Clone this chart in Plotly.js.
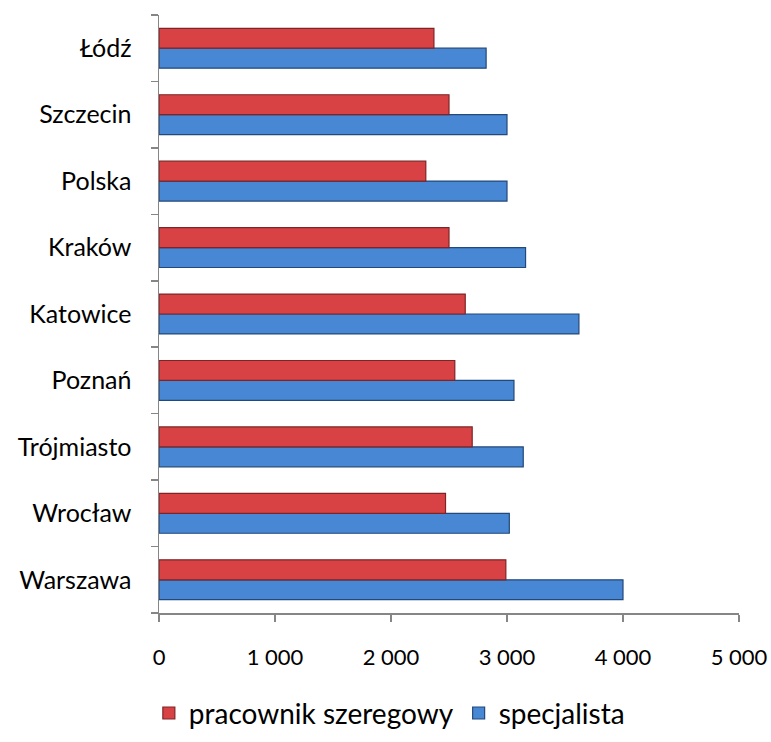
<!DOCTYPE html>
<html>
<head>
<meta charset="utf-8">
<script src="https://cdn.plot.ly/plotly-3.0.1.min.js"></script>
<style>html,body{margin:0;padding:0;background:#fff;}#chart{width:771px;height:742px;}</style>
</head>
<body>
<div id="chart"></div>
<script>
const categories = ["Warszawa", "Wrocław", "Trójmiasto", "Poznań", "Katowice", "Kraków", "Polska", "Szczecin", "Łódź"];
const pracownikSzeregowy = [2990, 2470, 2700, 2550, 2640, 2500, 2300, 2500, 2370];
const specjalista = [4000, 3020, 3140, 3060, 3620, 3160, 3000, 3000, 2820];
const seriesNames = ["pracownik szeregowy", "specjalista"];
const xTickVals = [0, 1000, 2000, 3000, 4000, 5000];
const xTickText = ["0", "1 000", "2 000", "3 000", "4 000", "5 000"];

const font = "Lato, 'Open Sans', 'Liberation Sans', sans-serif";

const traces = [
  {
    type: "bar", orientation: "h", name: seriesNames[1],
    y: categories, x: specjalista,
    marker: { color: "#4887d3", line: { color: "#23487a", width: 1.2 } },
    hoverinfo: "x+y"
  },
  {
    type: "bar", orientation: "h", name: seriesNames[0],
    y: categories, x: pracownikSzeregowy,
    marker: { color: "#d94244", line: { color: "#7e2426", width: 1.2 } },
    hoverinfo: "x+y"
  }
];

const layout = {
  width: 771, height: 742,
  margin: { l: 159, r: 32, t: 15, b: 129 },
  paper_bgcolor: "#ffffff", plot_bgcolor: "#ffffff",
  barmode: "group", bargap: 0.4, bargroupgap: 0,
  font: { family: font, size: 20, color: "#000000" },
  showlegend: true,
  legend: {
    orientation: "h", xref: "container", yref: "container",
    x: 0.505, xanchor: "center", y: 0.005, yanchor: "bottom",
    traceorder: "reversed", font: { family: font, size: 28, color: "#000" },
    itemwidth: 30, tracegroupgap: 0
  },
  xaxis: {
    range: [0, 5000], tickvals: xTickVals, ticktext: xTickText, automargin: false,
    showgrid: false, zeroline: false, showline: true, linecolor: "#868686", linewidth: 1.5,
    ticks: "outside", ticklen: 7, tickcolor: "#868686", tickwidth: 1.5,
    ticklabelstandoff: 17, tickfont: { family: font, size: 22, color: "#000" },
    fixedrange: true
  },
  yaxis: {
    type: "category", categoryorder: "array", categoryarray: categories, automargin: false,
    showgrid: false, zeroline: false, showline: true, linecolor: "#868686", linewidth: 1.5,
    ticks: "outside", tickson: "boundaries", ticklen: 7, tickcolor: "#868686", tickwidth: 1.5,
    ticklabelstandoff: 21, tickfont: { family: font, size: 25, color: "#000" },
    fixedrange: true
  }
};

Plotly.newPlot("chart", traces, layout, { displayModeBar: false, staticPlot: true });
</script>
</body>
</html>
